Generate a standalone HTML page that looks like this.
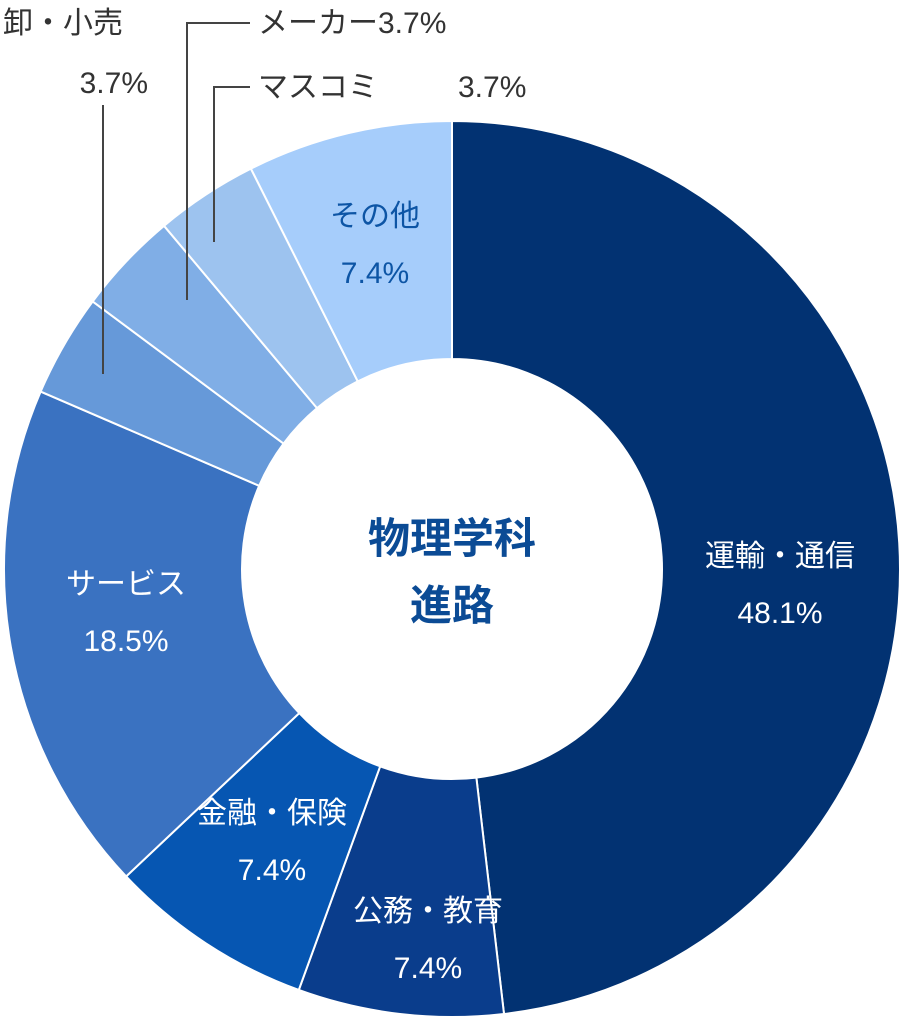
<!DOCTYPE html>
<html><head><meta charset="utf-8"><style>
html,body{margin:0;padding:0;background:#fff;}
svg{display:block;font-family:"Liberation Sans","Noto Sans CJK JP",sans-serif;}
</style></head><body>
<svg id="chart" width="903" height="1022" viewBox="0 0 903 1022">
<g id="slices"></g>
<g id="labels"></g>
<g stroke="#444" stroke-width="2" fill="none">
<polyline points="103,105 103,374"/>
<polyline points="250,23 187,23 187,300"/>
<polyline points="250,87 214,87 214,242"/>
</g>
<g fill="#333" font-size="30">
<text x="3" y="33">卸・小売</text>
<text x="148" y="93" text-anchor="end">3.7%</text>
<text x="258" y="33">メーカー3.7%</text>
<text x="258" y="97">マスコミ</text>
<text x="458" y="97">3.7%</text>
</g>
<g fill="#0b4b95" font-size="42" font-weight="bold" text-anchor="middle">
<text x="452" y="553">物理学科</text>
<text x="452" y="620">進路</text>
</g>
</svg>
<script>
const categories = ["運輸・通信","公務・教育","金融・保険","サービス","卸・小売","メーカー","マスコミ","その他"];
const values = [48.1, 7.4, 7.4, 18.5, 3.7, 3.7, 3.7, 7.4];
const valueLabels = ["48.1%","7.4%","7.4%","18.5%","3.7%","3.7%","3.7%","7.4%"];
const colors = ["#023272","#0a3d8c","#0656b2","#3a72c1","#6699d9","#80aee6","#9dc3ef","#a6cdfb"];
const insideLabel = [true,true,true,true,false,false,false,true];
const labelColor = ["#fff","#fff","#fff","#fff","#333","#333","#333","#0d55a5"];
const labelPos = [[780,555],[428,910],[272,812],[126,583],null,null,null,[375,215]];

const cx=452, cy=569, R=448, r=210;
const NS="http://www.w3.org/2000/svg";
const total = values.reduce((a,b)=>a+b,0);
function pt(rad, ang){return [cx+rad*Math.sin(ang), cy-rad*Math.cos(ang)];}
const gs=document.getElementById('slices'), gl=document.getElementById('labels');
let a0=0;
values.forEach((v,i)=>{
  const a1=a0+v/total*2*Math.PI;
  const [x0,y0]=pt(R,a0),[x1,y1]=pt(R,a1),[x2,y2]=pt(r,a1),[x3,y3]=pt(r,a0);
  const large=(a1-a0)>Math.PI?1:0;
  const p=document.createElementNS(NS,'path');
  p.setAttribute('d',`M${x0},${y0}A${R},${R} 0 ${large} 1 ${x1},${y1}L${x2},${y2}A${r},${r} 0 ${large} 0 ${x3},${y3}Z`);
  p.setAttribute('fill',colors[i]);
  p.setAttribute('stroke','#fff');
  p.setAttribute('stroke-width','2');
  
  
  gs.appendChild(p);
  if(insideLabel[i]){
    let lx,ly;
    if(labelPos[i]){[lx,ly]=labelPos[i];} else {[lx,ly]=pt((R+r)/2,(a0+a1)/2);}
    const t1=document.createElementNS(NS,'text');
    t1.setAttribute('x',lx);t1.setAttribute('y',ly+11);
    t1.setAttribute('text-anchor','middle');t1.setAttribute('font-size','30');
    t1.setAttribute('fill',labelColor[i]);
    
    
    t1.textContent=categories[i];gl.appendChild(t1);
    const t2=document.createElementNS(NS,'text');
    t2.setAttribute('x',lx);t2.setAttribute('y',ly+68);
    t2.setAttribute('text-anchor','middle');t2.setAttribute('font-size','30');
    t2.setAttribute('fill',labelColor[i]);
    
    
    t2.textContent=valueLabels[i];gl.appendChild(t2);
  }
  a0=a1;
});
</script>
</body></html>
